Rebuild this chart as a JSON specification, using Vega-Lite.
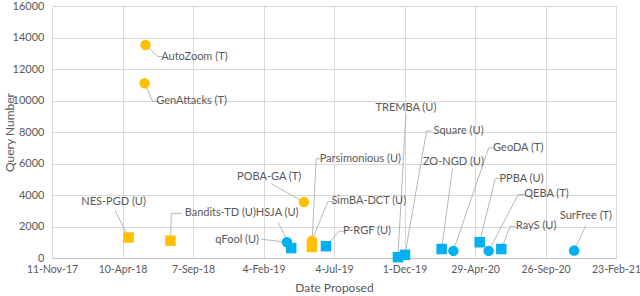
{
  "$schema": "https://vega.github.io/schema/vega-lite/v6.json",
  "width": 564,
  "height": 252,
  "autosize": "none",
  "padding": {"left": 52, "top": 6, "right": 24, "bottom": 38},
  "background": "white",
  "config": {
    "view": {"stroke": null},
    "font": "Lato",
    "axis": {"labelFont": "Lato", "titleFont": "Lato", "labelColor": "#595959", "titleColor": "#595959", "labelFontSize": 11, "titleFontSize": 12, "titleFontWeight": "normal", "gridColor": "#d9d9d9", "gridWidth": 1, "ticks": false}
  },
  "data": {
    "values": [
      {"name": "AutoZoom (T)", "group": "orange", "marker": "circle", "date": "2018-05-29", "queries": 13525, "ldate": "2018-09-10", "lval": 12790, "edate": "2018-06-24", "eval": 12790, "hdate": "2018-07-04"},
      {"name": "GenAttacks (T)", "group": "orange", "marker": "circle", "date": "2018-05-27", "queries": 11100, "ldate": "2018-09-04", "lval": 9950, "edate": "2018-06-13", "eval": 9950, "hdate": "2018-06-24"},
      {"name": "NES-PGD (U)", "group": "orange", "marker": "square", "date": "2018-04-23", "queries": 1300, "ldate": "2018-03-22", "lval": 3530, "edate": "2018-03-25", "eval": 3024, "hdate": "2018-03-25"},
      {"name": "Bandits-TD (U)", "group": "orange", "marker": "square", "date": "2018-07-21", "queries": 1100, "ldate": "2018-11-04", "lval": 2835, "edate": "2018-07-23", "eval": 2835, "hdate": "2018-08-14"},
      {"name": "qFool (U)", "group": "blue", "marker": "circle", "date": "2019-03-26", "queries": 1000, "ldate": "2018-12-10", "lval": 1134, "edate": "2019-01-30", "eval": 1197, "hdate": "2019-01-30"},
      {"name": "HSJA (U)", "group": "blue", "marker": "square", "date": "2019-04-04", "queries": 630, "ldate": "2019-03-05", "lval": 2835, "edate": "2019-03-07", "eval": 2268, "hdate": "2019-03-07"},
      {"name": "POBA-GA (T)", "group": "orange", "marker": "circle", "date": "2019-05-01", "queries": 3550, "ldate": "2019-02-16", "lval": 5166, "edate": "2019-02-20", "eval": 4725, "hdate": "2019-02-20"},
      {"name": "Parsimonious (U)", "group": "orange", "marker": "square", "date": "2019-05-18", "queries": 700, "ldate": "2019-08-29", "lval": 6300, "edate": "2019-05-27", "eval": 6300, "hdate": "2019-06-06"},
      {"name": "SimBA-DCT (U)", "group": "orange", "marker": "circle", "date": "2019-05-18", "queries": 1100, "ldate": "2019-09-16", "lval": 3591, "edate": "2019-06-21", "eval": 3591, "hdate": "2019-07-04"},
      {"name": "P-RGF (U)", "group": "blue", "marker": "square", "date": "2019-06-17", "queries": 750, "ldate": "2019-09-12", "lval": 1701, "edate": "2019-07-15", "eval": 1701, "hdate": "2019-07-25"},
      {"name": "TREMBA (U)", "group": "blue", "marker": "square", "date": "2019-11-17", "queries": 50, "ldate": "2019-12-04", "lval": 9513, "edate": "2019-12-04", "eval": 9135, "hdate": "2019-12-04"},
      {"name": "Square (U)", "group": "blue", "marker": "square", "date": "2019-12-02", "queries": 200, "ldate": "2020-03-25", "lval": 8064, "edate": "2020-01-17", "eval": 8064, "hdate": "2020-01-28"},
      {"name": "ZO-NGD (U)", "group": "blue", "marker": "square", "date": "2020-02-18", "queries": 570, "ldate": "2020-03-14", "lval": 6111, "edate": "2020-03-12", "eval": 5670, "hdate": "2020-03-12"},
      {"name": "GeoDA (T)", "group": "blue", "marker": "circle", "date": "2020-03-14", "queries": 450, "ldate": "2020-07-30", "lval": 6993, "edate": "2020-05-28", "eval": 6993, "hdate": "2020-06-07"},
      {"name": "PPBA (U)", "group": "blue", "marker": "square", "date": "2020-05-09", "queries": 1000, "ldate": "2020-08-06", "lval": 5040, "edate": "2020-06-11", "eval": 5040, "hdate": "2020-06-22"},
      {"name": "QEBA (T)", "group": "blue", "marker": "circle", "date": "2020-05-28", "queries": 450, "ldate": "2020-09-28", "lval": 4032, "edate": "2020-07-30", "eval": 4032, "hdate": "2020-08-14"},
      {"name": "RayS (U)", "group": "blue", "marker": "square", "date": "2020-06-24", "queries": 570, "ldate": "2020-09-06", "lval": 2016, "edate": "2020-07-13", "eval": 2016, "hdate": "2020-07-24"},
      {"name": "SurFree (T)", "group": "blue", "marker": "circle", "date": "2020-11-26", "queries": 470, "ldate": "2020-12-21", "lval": 2646, "edate": "2020-12-21", "eval": 2079, "hdate": "2020-12-21"}
    ]
  },
  "encoding": {
    "x": {
      "field": "date", "type": "temporal",
      "scale": {"domain": [{"year": 2017, "month": 11, "date": 11}, {"year": 2021, "month": 2, "date": 23}]},
      "axis": {
        "title": "Date Proposed", "format": "%-d-%b-%y", "labelFlush": false, "labelPadding": 6, "titlePadding": 8,
        "domainColor": "#bfbfbf", "labelFontSize": 10.5,
        "values": [
          {"year": 2017, "month": 11, "date": 11}, {"year": 2018, "month": 4, "date": 10}, {"year": 2018, "month": 9, "date": 7},
          {"year": 2019, "month": 2, "date": 4}, {"year": 2019, "month": 7, "date": 4}, {"year": 2019, "month": 12, "date": 1},
          {"year": 2020, "month": 4, "date": 29}, {"year": 2020, "month": 9, "date": 26}, {"year": 2021, "month": 2, "date": 23}
        ]
      }
    },
    "y": {
      "field": "queries", "type": "quantitative",
      "scale": {"domain": [0, 16000], "nice": false},
      "axis": {"title": "Query Number", "values": [0, 2000, 4000, 6000, 8000, 10000, 12000, 14000, 16000], "format": "d", "domain": false, "labelPadding": 8, "titleX": -36, "titleY": 126, "titleAngle": -90, "titleBaseline": "bottom"}
    }
  },
  "layer": [
    {
      "mark": {"type": "rule", "color": "#a6a6a6", "strokeWidth": 0.8},
      "encoding": {"x2": {"field": "edate"}, "y2": {"field": "eval"}}
    },
    {
      "mark": {"type": "rule", "color": "#a6a6a6", "strokeWidth": 0.8},
      "encoding": {"x": {"field": "edate", "type": "temporal"}, "x2": {"field": "hdate"}, "y": {"field": "eval", "type": "quantitative"}}
    },
    {
      "mark": {"type": "point", "filled": true, "opacity": 1, "size": 110},
      "encoding": {
        "color": {"field": "group", "type": "nominal", "scale": {"domain": ["orange", "blue"], "range": ["#FFC000", "#00B0F0"]}, "legend": null},
        "shape": {"field": "marker", "type": "nominal", "scale": {"domain": ["circle", "square"], "range": ["circle", "square"]}, "legend": null}
      }
    },
    {
      "mark": {"type": "text", "fontSize": 11, "color": "#595959", "align": "center", "baseline": "middle", "font": "Lato"},
      "encoding": {"x": {"field": "ldate", "type": "temporal"}, "y": {"field": "lval", "type": "quantitative"}, "text": {"field": "name"}}
    }
  ]
}
